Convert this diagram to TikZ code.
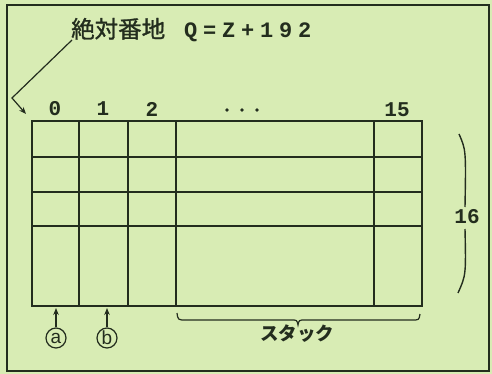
\documentclass[tikz,border=0pt]{standalone}
\usepackage{fontspec}
\setmainfont{Liberation Mono}
\setsansfont{Liberation Sans}
\newfontfamily\jpf{Noto Sans CJK JP}
\newfontfamily\jpm{Noto Sans CJK JP}[FakeBold=1.2]
\usetikzlibrary{arrows.meta}
\definecolor{bgc}{RGB}{216,236,180}
\definecolor{ink}{RGB}{35,45,30}
\newcommand{\mcb}[1]{\makebox[19pt]{#1}}
\begin{document}
\begin{tikzpicture}[x=1pt,y=-1pt,
  line/.style={draw=ink,line width=1.4pt},
  lbl/.style={text=ink,inner sep=0pt,font=\bfseries\fontsize{21}{21}\selectfont},
  ptr/.style={draw=ink,line width=1.2pt,-{Stealth[length=7pt,width=5.5pt]}},
  circ/.style={circle,draw=ink,line width=1.2pt,inner sep=0pt,minimum size=20pt,text=ink,font=\sffamily\fontsize{19}{19}\selectfont}]
\fill[bgc] (0,0) rectangle (492,374);
\useasboundingbox (0,0) rectangle (492,374);
% outer frame
\draw[draw=ink,line width=1.8pt] (7,5) rectangle (489,371);
% title
\node[anchor=west,inner sep=0pt,text=ink] (title) at (71,30)
  {{\jpm\fontsize{23.5}{24}\selectfont 絶対番地}\hspace{16pt}{\bfseries\fontsize{22}{22}\selectfont\mcb{Q}\mcb{=}\mcb{Z}\mcb{+}\mcb{1}\mcb{9}\mcb{2}}};
% leader
\coordinate (la) at (72,40);
\coordinate (lb) at (12,98);
\coordinate (lc) at (26,114);
\draw[ptr] (la) -- (lb) -- (lc);
% column labels
\node[lbl] (c0) at (55,109) {0};
\node[lbl] (c1) at (103,109) {1};
\node[lbl] (c2) at (152,109) {2};
\foreach \i/\x in {1/227,2/242,3/257} \fill[ink] (\x,110) circle (1.8pt);
\node[lbl] (c15) at (397,110) {15};
% grid
\draw[line] (32,121) rectangle (422,306);
\foreach \x in {79,128,176,374} \draw[line] (\x,121) -- (\x,306);
\foreach \y in {157,192,226} \draw[line] (32,\y) -- (422,\y);
% a, b
\node[circ] (ca) at (56,338) {a};
\node[circ] (cb) at (107,338) {b};
\coordinate (pa) at (56,308);
\coordinate (pb) at (107,308);
\draw[ptr] (ca) -- (pa);
\draw[ptr] (cb) -- (pb);
% stack brace
\draw[draw=ink,line width=1.2pt] (177,313) .. controls (178,320) .. (186,320) -- (291,320) .. controls (297,320) .. (298,325) .. controls (299,320) .. (305,320) -- (412,320) .. controls (419,320) .. (420,314);
\node[inner sep=0pt,text=ink,font=\jpf\bfseries\fontsize{18.5}{18}\selectfont] (stack) at (297,334) {スタック};
% right paren with 16
\node[lbl] (n16) at (467,217) {16};
\draw[draw=ink,line width=1.4pt] (459,134) .. controls (466,150) .. (465,207);
\draw[draw=ink,line width=1.4pt] (465,229) .. controls (466,275) .. (458,293);
\end{tikzpicture}
\end{document}
